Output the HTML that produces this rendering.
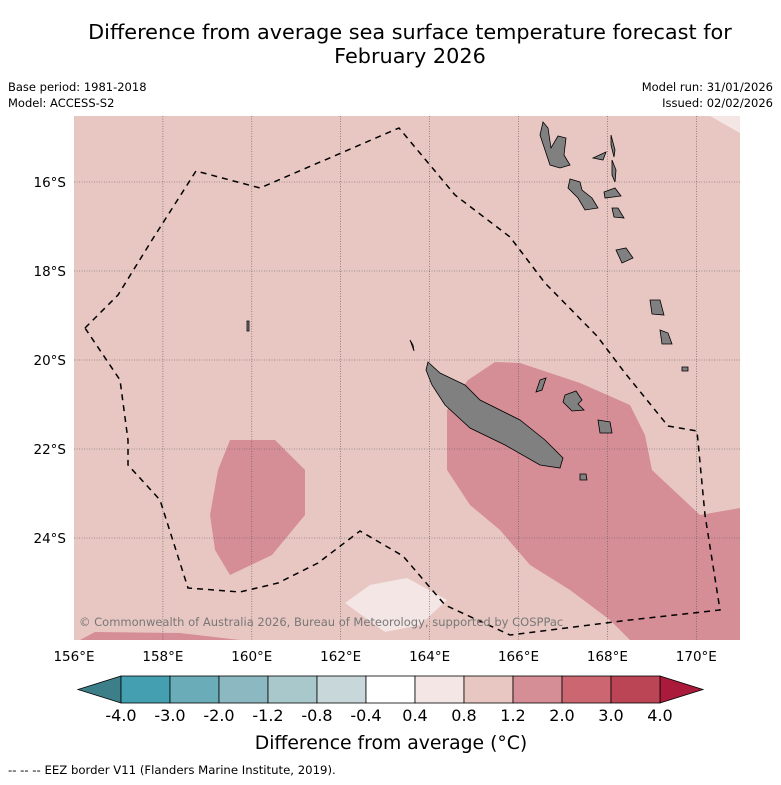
<!DOCTYPE html>
<html><head><meta charset="utf-8"><style>
body{margin:0;background:#fff;width:781px;height:781px;overflow:hidden;font-family:"DejaVu Sans",sans-serif}
</style></head><body>
<svg id="s" width="781" height="781" xmlns="http://www.w3.org/2000/svg" font-family="DejaVu Sans, sans-serif">
<text x="410" y="39" font-size="20.8" text-anchor="middle">Difference from average sea surface temperature forecast for</text>
<text x="410" y="63" font-size="20.8" text-anchor="middle">February 2026</text>
<text x="8" y="91" font-size="11.5">Base period: 1981-2018</text>
<text x="8" y="107" font-size="11.5">Model: ACCESS-S2</text>
<text x="773" y="91" font-size="11.5" text-anchor="end">Model run: 31/01/2026</text>
<text x="773" y="107" font-size="11.5" text-anchor="end">Issued: 02/02/2026</text>
<defs><clipPath id="mc"><rect x="74" y="116" width="666" height="524"/></clipPath></defs>
<g clip-path="url(#mc)">
<rect x="74" y="116" width="666" height="524" fill="#e8c7c2"/>
<path d="M447,410 L468,380 L495,362 L520,363 L580,383 L630,405 L645,435 L652,470 L700,515 L740,508 L740,640 L630,640 L610,620 L570,590 L530,565 L500,530 L470,505 L447,470 Z" fill="#d68e96"/>
<path d="M230,440 L275,440 L305,470 L305,515 L272,555 L230,575 L215,550 L210,515 L218,470 Z" fill="#d68e96"/>
<path d="M80,640 L95,632 L180,633 L240,640 Z" fill="#d68e96"/>
<path d="M345,603 L370,585 L407,578 L447,600 L420,625 L385,632 Z" fill="#f3e6e5"/>
<path d="M710,116 L740,116 L740,133 Z" fill="#f3e6e5"/>
<g id="grid"></g>
<g fill="#808080" stroke="#000" stroke-width="0.8">
<path d="M428,362 L440,373 L465,385 L480,400 L520,420 L545,440 L563,458 L560,468 L540,465 L505,445 L470,428 L445,405 L432,385 L426,370 Z"/>
<path d="M565,395 L576,391 L582,400 L578,404 L584,410 L572,411 L563,402 Z"/><path d="M598,420 L610,422 L612,433 L600,433 Z"/>
<path d="M580,474 L586,474 L587,480 L580,480 Z"/><path d="M540,380 L546,378 L542,390 L536,392 Z"/>
<path d="M543,122 L548,128 L551,148 L558,136 L566,138 L564,155 L570,165 L560,168 L550,165 L545,150 L540,135 Z"/>
<path d="M570,179 L580,182 L582,190 L592,198 L598,208 L585,210 L578,198 L568,188 Z"/>
<path d="M604,192 L615,188 L621,196 L605,198 Z"/>
<path d="M611,135 L615,150 L614,157 L611,145 Z"/><path d="M612,160 L616,170 L615,182 L612,175 Z"/>
<path d="M593,158 L606,152 L603,160 Z"/>
<path d="M612,208 L618,208 L624,218 L614,217 Z"/>
<path d="M616,250 L626,248 L633,258 L622,263 Z"/>
<path d="M650,300 L660,300 L664,315 L652,314 Z"/>
<path d="M660,330 L668,333 L672,344 L662,344 Z"/>
<path d="M682,367 L688,367 L688,371 L682,371 Z"/>
<path d="M247,321 L249,321 L249,331 L247,331 Z"/><path d="M410,340 L413,345 L414,351 Z"/>
</g>
<path d="M85,328 L118,295 L152,240 L196,171 L260,188 L399,128 L455,195 L510,237 L545,283 L597,336 L625,373 L668,426 L697,431 L705,515 L720,610 L630,620 L510,635 L445,605 L403,556 L360,531 L318,563 L278,583 L240,592 L188,588 L160,500 L128,465 L128,440 L120,380 Z" fill="none" stroke="#000" stroke-width="1.5" stroke-dasharray="6,5"/>
<text x="79" y="626" font-size="11.5" fill="#777">© Commonwealth of Australia 2026, Bureau of Meteorology, supported by COSPPac</text>
</g>
<g id="axes" font-size="13.5"></g>
<g id="cbar"></g>
<text x="391" y="749" font-size="18.8" text-anchor="middle">Difference from average (°C)</text>
<text x="8" y="774" font-size="11.7">--  --  -- EEZ border V11 (Flanders Marine Institute, 2019).</text>
</svg>
<script>
const lonTicks=[156,158,160,162,164,166,168,170];
const latTicks=[16,18,20,22,24];
const cbBounds=["-4.0","-3.0","-2.0","-1.2","-0.8","-0.4","0.4","0.8","1.2","2.0","3.0","4.0"];
const cbColors=["#44a0b0","#6aacb8","#8cb8c2","#a8c8cc","#c8d8da","#ffffff","#f3e6e5","#e8c7c2","#d68e96","#cc6670","#bb4455"];
const NS="http://www.w3.org/2000/svg";
const xLon=l=>74+(l-156)*44.45;
const yLat=l=>182+(l-16)*44.5;
function mk(p,t,a){const e=document.createElementNS(NS,t);for(const k in a)e.setAttribute(k,a[k]);p.appendChild(e);return e;}
const grid=document.getElementById('grid'),axes=document.getElementById('axes'),cb=document.getElementById('cbar');
lonTicks.forEach(l=>{const x=xLon(l);
 if(l>156){const g=mk(grid,'line',{x1:x,x2:x,y1:116,y2:640,stroke:'#555','stroke-width':0.6,'stroke-dasharray':'1,1.5'});
 
 }
 const t=mk(axes,'text',{x:x,y:661,'text-anchor':'middle'});t.textContent=l+'°E';
 
 });
latTicks.forEach(l=>{const y=yLat(l);
 const g=mk(grid,'line',{x1:74,x2:740,y1:y,y2:y,stroke:'#555','stroke-width':0.6,'stroke-dasharray':'1,1.5'});
 
 
 const t=mk(axes,'text',{x:66,y:y+5,'text-anchor':'end'});t.textContent=l+'°S';
 
 });
const x0=121,w=49,y0=676,h=27;
const lt=mk(cb,'path',{d:`M${x0},${y0} L78,${y0+h/2} L${x0},${y0+h} Z`,fill:'#3d7f88',stroke:'#000','stroke-width':0.8});


const xe=x0+w*cbColors.length;
const rt=mk(cb,'path',{d:`M${xe},${y0} L703,${y0+h/2} L${xe},${y0+h} Z`,fill:'#aa1a3a',stroke:'#000','stroke-width':0.8});


cbColors.forEach((c,i)=>{const r=mk(cb,'rect',{x:x0+i*w,y:y0,width:w,height:h,fill:c,stroke:'#000','stroke-width':0.8});
 
 });
cbBounds.forEach((b,i)=>{const t=mk(cb,'text',{x:x0+i*w,y:721,'text-anchor':'middle','font-size':16});t.textContent=b;
 
 });
</script>
</body></html>
